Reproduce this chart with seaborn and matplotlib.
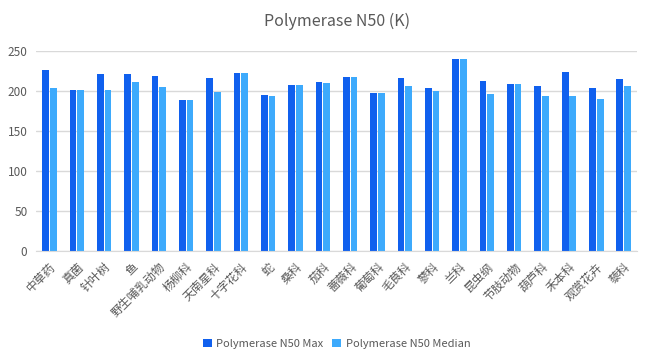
import pandas as pd
import seaborn as sns
import matplotlib.pyplot as plt

# 数据
categories = ['中草药', '真菌', '针叶树', '鱼', '野生哺乳动物', '杨柳科', '天南星科', '十字花科',
              '蛇', '桑科', '茄科', '蔷薇科', '葡萄科', '毛茛科', '蓼科', '兰科', '昆虫纲',
              '节肢动物', '葫芦科', '禾本科', '观赏花卉', '藜科']
n50_max = [226, 201, 221, 221, 219, 189, 216, 222, 195, 207, 211, 217, 197, 216, 204, 240,
           212, 209, 206, 224, 204, 215]
n50_median = [204, 201, 201, 211, 205, 189, 199, 222, 194, 207, 210, 217, 197, 206, 200, 240,
              196, 209, 194, 194, 190, 206]

df = pd.DataFrame({
    'category': categories * 2,
    'value': n50_max + n50_median,
    'series': ['Polymerase N50 Max'] * len(categories) + ['Polymerase N50 Median'] * len(categories),
})

sns.set_style('white')
plt.rcParams['font.family'] = ['Noto Sans CJK SC', 'DejaVu Sans']

fig = plt.figure(figsize=(6.51, 3.62), dpi=100)
ax = fig.add_axes([0.055, 0.307, 0.924, 0.552])

sns.barplot(data=df, x='category', y='value', hue='series',
            palette=['#1060EE', '#3DAAFC'], width=0.56, gap=0.12,
            saturation=1, linewidth=0, ax=ax, legend=True)

ax.set_ylim(0, 250)
ax.set_yticks(range(0, 251, 50))
ax.yaxis.grid(True, color='#d9d9d9', linewidth=1)
ax.set_axisbelow(True)
for s in ['top', 'right', 'left']:
    ax.spines[s].set_visible(False)
ax.spines['bottom'].set_color('#d9d9d9')
ax.set_xlabel('')
ax.set_ylabel('')
ax.tick_params(axis='y', length=0, colors='#595959', labelsize=8.5, pad=6)
ax.tick_params(axis='x', length=0, colors='#595959', pad=7)
ax.set_xticks(range(len(categories)))
ax.set_xticklabels(categories, rotation=45, ha='right', va='top',
                   rotation_mode='anchor', fontsize=8.5)
ax.set_xlim(-0.5, len(categories) - 0.5)

ax.set_title('Polymerase N50 (K)', fontsize=11.5, color='#595959', pad=18)

ax.legend(loc='upper center', bbox_to_anchor=(0.5, -0.39), ncol=2, frameon=False,
          fontsize=8, handlelength=0.8, handleheight=0.8, columnspacing=0.8,
          handletextpad=0.4, labelcolor='#595959')

fig.savefig('out.png', dpi=100)
